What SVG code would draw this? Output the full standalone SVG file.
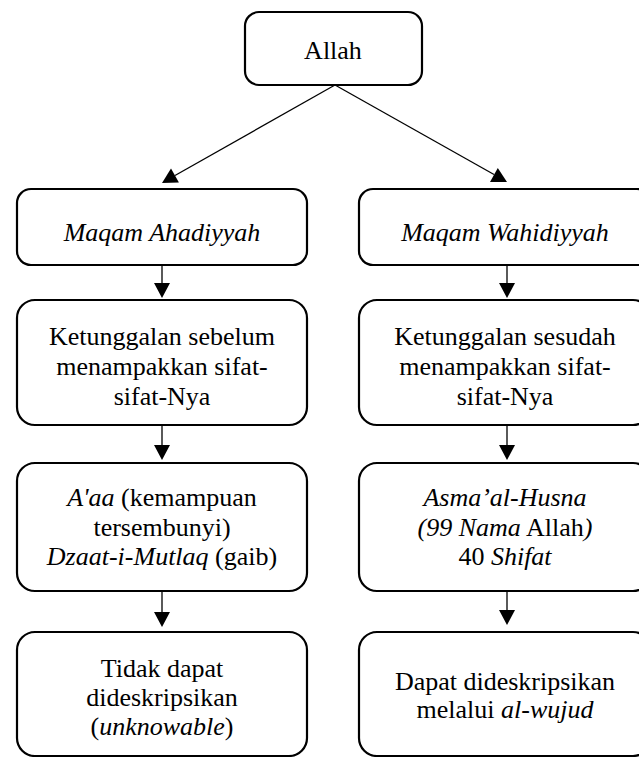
<svg xmlns="http://www.w3.org/2000/svg" width="639" height="757" viewBox="0 0 639 757">
<rect width="639" height="757" fill="#fff"/>
<g id="connectors">
<g stroke="#000" stroke-width="1.3" fill="none">
<line x1="335" y1="85" x2="175" y2="175.5"/>
<line x1="335" y1="85" x2="494" y2="174.5"/>
<line x1="162" y1="265" x2="162" y2="284"/>
<line x1="507" y1="265" x2="507" y2="284"/>
<line x1="162" y1="425" x2="162" y2="446"/>
<line x1="507" y1="425" x2="507" y2="446"/>
<line x1="162" y1="591" x2="162" y2="612"/>
<line x1="507" y1="591" x2="507" y2="611"/>
</g>
<g fill="#000">
<polygon points="162,183 171.0,168.5 178.9,182.4"/>
<polygon points="507,182 490.0,181.9 497.8,167.9"/>
<polygon points="162,298 154,283 170,283"/>
<polygon points="507,298 499,283 515,283"/>
<polygon points="162,460 154,445 170,445"/>
<polygon points="507,460 499,445 515,445"/>
<polygon points="162,627 154,612 170,612"/>
<polygon points="507,625 499,610 515,610"/>
</g>
</g>
<g id="allah">
<rect x="245" y="12" width="177" height="73" rx="14" fill="#fff" stroke="#000" stroke-width="2.2"/>
<text x="333" y="59" font-family="Liberation Serif" font-size="26" text-anchor="middle">Allah</text>
</g>
<g id="maqam-ahadiyyah">
<rect x="17" y="189" width="290" height="76" rx="14" fill="#fff" stroke="#000" stroke-width="2.2"/>
<text x="162" y="241" font-family="Liberation Serif" font-size="26" text-anchor="middle" font-style="italic">Maqam Ahadiyyah</text>
</g>
<g id="maqam-wahidiyyah">
<rect x="359" y="189" width="292" height="76" rx="14" fill="#fff" stroke="#000" stroke-width="2.2"/>
<text x="505" y="241" font-family="Liberation Serif" font-size="26" text-anchor="middle" font-style="italic">Maqam Wahidiyyah</text>
</g>
<g id="ketunggalan-sebelum">
<rect x="17" y="300" width="290" height="125" rx="18" fill="#fff" stroke="#000" stroke-width="2.2"/>
<text x="162" y="345" font-family="Liberation Serif" font-size="26" text-anchor="middle">Ketunggalan sebelum</text>
<text x="162" y="375" font-family="Liberation Serif" font-size="26" text-anchor="middle">menampakkan sifat-</text>
<text x="162" y="405" font-family="Liberation Serif" font-size="26" text-anchor="middle">sifat-Nya</text>
</g>
<g id="ketunggalan-sesudah">
<rect x="359" y="300" width="292" height="125" rx="18" fill="#fff" stroke="#000" stroke-width="2.2"/>
<text x="505" y="345" font-family="Liberation Serif" font-size="26" text-anchor="middle">Ketunggalan sesudah</text>
<text x="505" y="375" font-family="Liberation Serif" font-size="26" text-anchor="middle">menampakkan sifat-</text>
<text x="505" y="405" font-family="Liberation Serif" font-size="26" text-anchor="middle">sifat-Nya</text>
</g>
<g id="aaa">
<rect x="17" y="463" width="290" height="128" rx="18" fill="#fff" stroke="#000" stroke-width="2.2"/>
<text x="162" y="506" font-family="Liberation Serif" font-size="26" text-anchor="middle"><tspan font-style="italic">A'aa</tspan> (kemampuan</text>
<text x="162" y="536" font-family="Liberation Serif" font-size="26" text-anchor="middle">tersembunyi)</text>
<text x="162" y="565" font-family="Liberation Serif" font-size="26" text-anchor="middle"><tspan font-style="italic">Dzaat-i-Mutlaq</tspan> (gaib)</text>
</g>
<g id="asma">
<rect x="359" y="463" width="292" height="128" rx="18" fill="#fff" stroke="#000" stroke-width="2.2"/>
<text x="505" y="506" font-family="Liberation Serif" font-size="26" text-anchor="middle" font-style="italic">Asma&#8217;al-Husna</text>
<text x="505" y="536" font-family="Liberation Serif" font-size="26" text-anchor="middle"><tspan font-style="italic">(99 Nama</tspan> Allah<tspan font-style="italic">)</tspan></text>
<text x="505" y="565" font-family="Liberation Serif" font-size="26" text-anchor="middle">40 <tspan font-style="italic">Shifat</tspan></text>
</g>
<g id="tidak-dapat">
<rect x="17" y="632" width="290" height="124" rx="18" fill="#fff" stroke="#000" stroke-width="2.2"/>
<text x="162" y="677" font-family="Liberation Serif" font-size="26" text-anchor="middle">Tidak dapat</text>
<text x="162" y="706" font-family="Liberation Serif" font-size="26" text-anchor="middle">dideskripsikan</text>
<text x="162" y="735" font-family="Liberation Serif" font-size="26" text-anchor="middle">(<tspan font-style="italic">unknowable</tspan>)</text>
</g>
<g id="dapat">
<rect x="359" y="632" width="292" height="124" rx="18" fill="#fff" stroke="#000" stroke-width="2.2"/>
<text x="505" y="690" font-family="Liberation Serif" font-size="26" text-anchor="middle">Dapat dideskripsikan</text>
<text x="505" y="718" font-family="Liberation Serif" font-size="26" text-anchor="middle">melalui <tspan font-style="italic">al-wujud</tspan></text>
</g>
</svg>
